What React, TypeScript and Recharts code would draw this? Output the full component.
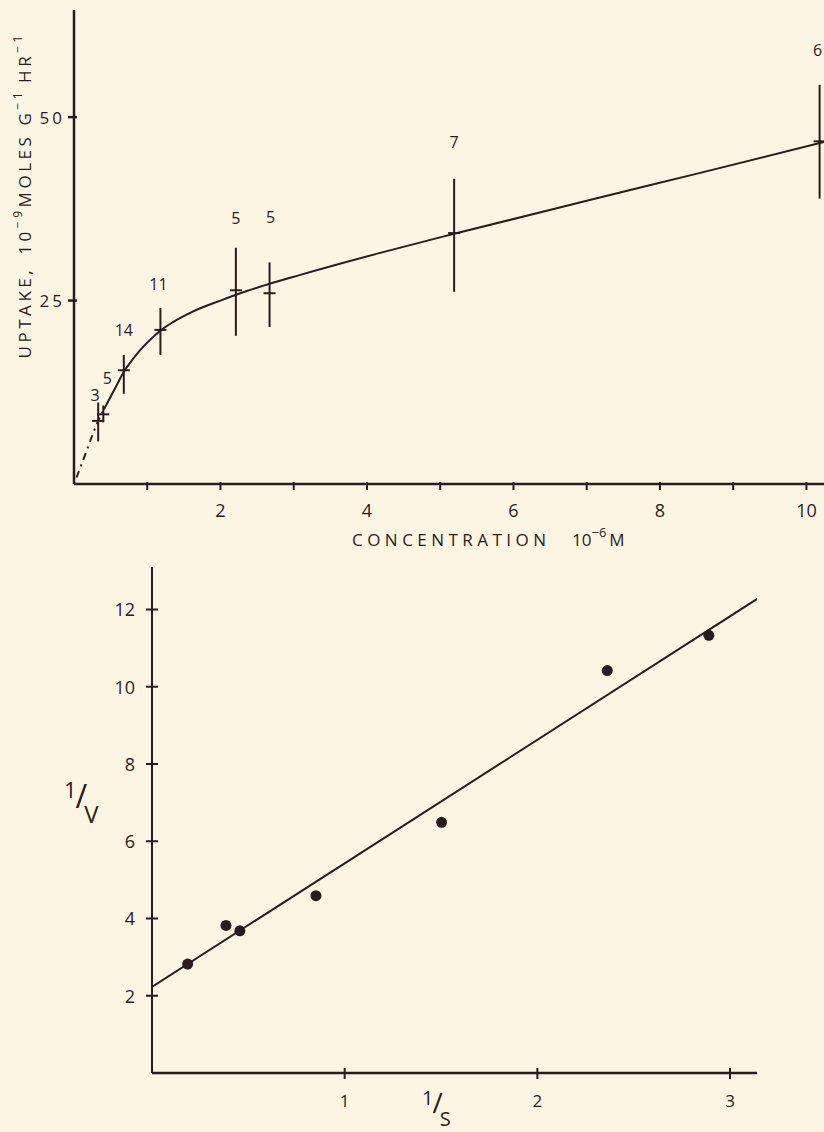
import React from "react";
import { ComposedChart, Scatter, Line, XAxis, YAxis, ErrorBar } from "recharts";

const INK = "#2a1c1c";
const BG = "#fdf5e4";
const FONT = "'Open Sans', 'DejaVu Sans', sans-serif";

// ---- Top chart: uptake vs concentration ----
const concX = [0.33, 0.4, 0.68, 1.18, 2.21, 2.67, 5.19, 10.18];
const uptake = [8.6, 9.5, 15.5, 21.0, 26.4, 26.0, 34.2, 46.7];
const uptakeLow = [5.8, 8.4, 12.3, 17.6, 20.2, 21.4, 26.2, 38.9];
const uptakeHigh = [11.1, 10.7, 17.6, 24.0, 32.2, 30.2, 41.6, 54.4];
const counts = [3, 5, 14, 11, 5, 5, 7, 6];

const curveX = [0, 0.16, 0.26, 0.33, 0.41, 0.5, 0.59, 0.68, 0.75, 0.9, 1.11, 1.18, 1.34, 1.6, 2.0, 2.36, 2.61, 3.09, 4.18, 5.19, 7.0, 8.55, 10.24];
const curveY = [0, 4.2, 6.9, 8.6, 10.2, 11.9, 13.6, 15.3, 16.3, 18.2, 20.3, 20.9, 22.0, 23.4, 25.0, 26.3, 27.1, 28.5, 31.5, 34.1, 38.6, 42.4, 46.6];

const topXTicks = [1, 2, 3, 4, 5, 6, 7, 8, 9, 10];
const topXLabelled = [2, 4, 6, 8, 10];
const topYTicks = [25, 50];

// ---- Bottom chart: Lineweaver-Burk ----
const invS = [0.185, 0.384, 0.456, 0.851, 1.503, 2.363, 2.89];
const invV = [2.82, 3.82, 3.68, 4.59, 6.49, 10.42, 11.33];
const fitX = [0, 3.28];
const fitY = [2.23, 12.72];
const botXTicks = [1, 2, 3];
const botYTicks = [2, 4, 6, 8, 10, 12];

// layout-only: label placement for the count labels (px above top of bar, px sideways)
const countLift = [8, 27, 25, 24, 30, 45, 37, 35];
const countShift = [-3, 4, 0, -2, 0, 1, 0, -2];

const uptakeRows = concX.map((x, i) => ({
  x,
  y: uptake[i],
  err: [uptake[i] - uptakeLow[i], uptakeHigh[i] - uptake[i]],
}));
const countRows = concX.map((x, i) => ({ x, y: uptakeHigh[i], n: counts[i], i }));
const curveRows = curveX.map((x, i) => ({ x, y: curveY[i] }));
const curveDashed = curveRows.filter((r) => r.x <= 0.41);
const curveSolid = curveRows.filter((r) => r.x >= 0.41);

const lbRows = invS.map((x, i) => ({ x, y: invV[i] }));
const fitRows = fitX.map((x, i) => ({ x, y: fitY[i] }));

const Cross = (props: any) => {
  const { cx, cy } = props;
  if (cx == null || cy == null) return null;
  return <line x1={cx - 6} x2={cx + 6} y1={cy} y2={cy} stroke={INK} strokeWidth={2} />;
};

const CountLabel = (props: any) => {
  const { cx, cy, payload } = props;
  if (cx == null || cy == null) return null;
  const i = payload.i;
  return (
    <text
      x={cx + countShift[i]}
      y={cy - countLift[i]}
      textAnchor="middle"
      dominantBaseline="central"
      fontFamily={FONT}
      fontSize={16}
      fill={INK}
    >
      {payload.n}
    </text>
  );
};

const Dot = (props: any) => {
  const { cx, cy } = props;
  if (cx == null || cy == null) return null;
  return <circle cx={cx} cy={cy} r={5.5} fill={INK} />;
};

const TopXTick = (props: any) => {
  const { x, y, payload } = props;
  const v = payload.value;
  return (
    <g>
      <line x1={x} x2={x} y1={y} y2={y - 8} stroke={INK} strokeWidth={2} />
      {topXLabelled.includes(v) && (
        <text x={x} y={y + 20} textAnchor="middle" dominantBaseline="central" fontFamily={FONT} fontSize={18} fill={INK}>
          {v}
        </text>
      )}
    </g>
  );
};

const TopYTick = (props: any) => {
  const { x, y, payload } = props;
  return (
    <g>
      <line x1={x} x2={x + 9} y1={y} y2={y} stroke={INK} strokeWidth={2.5} />
      <text x={x - 3} y={y} textAnchor="end" dominantBaseline="central" fontFamily={FONT} fontSize={17} letterSpacing={3} fill={INK}>
        {payload.value}
      </text>
    </g>
  );
};

const BotXTick = (props: any) => {
  const { x, y, payload } = props;
  return (
    <g>
      <line x1={x} x2={x} y1={y} y2={y - 11} stroke={INK} strokeWidth={2} />
      <text x={x} y={y + 21} textAnchor="middle" dominantBaseline="central" fontFamily={FONT} fontSize={17} fill={INK}>
        {payload.value}
      </text>
    </g>
  );
};

const BotYTick = (props: any) => {
  const { x, y, payload } = props;
  return (
    <g>
      <line x1={x} x2={x + 12} y1={y} y2={y} stroke={INK} strokeWidth={2} />
      <text x={x - 11} y={y} textAnchor="end" dominantBaseline="central" fontFamily={FONT} fontSize={18} fill={INK}>
        {payload.value}
      </text>
    </g>
  );
};

export default function App() {
  return (
    <div style={{ position: "absolute", left: 0, top: 0, width: 824, height: 1132, background: BG, overflow: "hidden" }}>
      <div style={{ position: "absolute", left: 0, top: 0 }}>
        <ComposedChart width={824} height={560} margin={{ top: 10, right: 0, bottom: 75, left: 73 }}>
          <XAxis
            type="number"
            dataKey="x"
            domain={[0, 10.24]}
            ticks={topXTicks}
            interval={0}
            height={1}
            tickLine={false}
            tickMargin={0}
            tick={<TopXTick />}
            axisLine={{ stroke: INK, strokeWidth: 2.5 }}
            allowDataOverflow
          />
          <YAxis
            type="number"
            dataKey="y"
            domain={[0, 64.6]}
            ticks={topYTicks}
            interval={0}
            width={1}
            tickLine={false}
            tickMargin={0}
            tick={<TopYTick />}
            axisLine={{ stroke: INK, strokeWidth: 2.5 }}
            allowDataOverflow
          />
          <Line data={curveDashed} dataKey="y" type="monotone" stroke={INK} strokeWidth={2} strokeDasharray="2 5 7 5" dot={false} isAnimationActive={false} />
          <Line data={curveSolid} dataKey="y" type="monotone" stroke={INK} strokeWidth={2} dot={false} isAnimationActive={false} />
          <Scatter data={uptakeRows} dataKey="y" shape={<Cross />} isAnimationActive={false}>
            <ErrorBar dataKey="err" direction="y" width={0} stroke={INK} strokeWidth={2} />
          </Scatter>
          <Scatter data={countRows} dataKey="y" shape={<CountLabel />} isAnimationActive={false} />
        </ComposedChart>
      </div>
      <div style={{ position: "absolute", left: 0, top: 540 }}>
        <ComposedChart width={824} height={592} margin={{ top: 27, right: 67, bottom: 58, left: 151 }}>
          <XAxis
            type="number"
            dataKey="x"
            domain={[0, 3.14]}
            ticks={botXTicks}
            interval={0}
            height={1}
            tickLine={false}
            tickMargin={0}
            tick={<BotXTick />}
            axisLine={{ stroke: INK, strokeWidth: 2.5 }}
            allowDataOverflow
          />
          <YAxis
            type="number"
            dataKey="y"
            domain={[0, 13.1]}
            ticks={botYTicks}
            interval={0}
            width={1}
            tickLine={false}
            tickMargin={0}
            tick={<BotYTick />}
            axisLine={{ stroke: INK, strokeWidth: 2 }}
            allowDataOverflow
          />
          <Line data={fitRows} dataKey="y" type="linear" stroke={INK} strokeWidth={2} dot={false} isAnimationActive={false} />
          <Scatter data={lbRows} dataKey="y" shape={<Dot />} isAnimationActive={false} />
        </ComposedChart>
      </div>
      <svg width={824} height={1132} style={{ position: "absolute", left: 0, top: 0, pointerEvents: "none" }}>
        <text
          transform="translate(24,197) rotate(-90)"
          textAnchor="middle"
          dominantBaseline="central"
          fontFamily={FONT}
          fontSize={17}
          fill={INK}
          textLength={323}
          lengthAdjust="spacing"
        >
          UPTAKE,
          <tspan dx={12}>10</tspan>
          <tspan dy={-7} fontSize={12}>−9</tspan>
          <tspan dy={7}>MOLES G</tspan>
          <tspan dy={-7} fontSize={12}>−1</tspan>
          <tspan dy={7} dx={6}>HR</tspan>
          <tspan dy={-7} fontSize={12}>−1</tspan>
        </text>
        <text x={352} y={539} dominantBaseline="central" fontFamily={FONT} fontSize={17} fill={INK} textLength={194} lengthAdjust="spacing">
          CONCENTRATION
        </text>
        <text x={572} y={539} dominantBaseline="central" fontFamily={FONT} fontSize={17} fill={INK}>
          10
          <tspan dy={-7} fontSize={13}>−6</tspan>
          <tspan dy={7} dx={3}>M</tspan>
        </text>
        <text x={64} y={798} fontFamily={FONT} fontSize={22} fill={INK}>
          1
          <tspan dx={-1} dy={10} fontSize={32}>/</tspan>
          <tspan dx={-3} dy={15} fontSize={24}>V</tspan>
        </text>
        <text x={422} y={1105} fontFamily={FONT} fontSize={20} fill={INK}>
          1
          <tspan dx={-1} dy={8} fontSize={28}>/</tspan>
          <tspan dx={-3} dy={13} fontSize={20}>S</tspan>
        </text>
      </svg>
    </div>
  );
}
